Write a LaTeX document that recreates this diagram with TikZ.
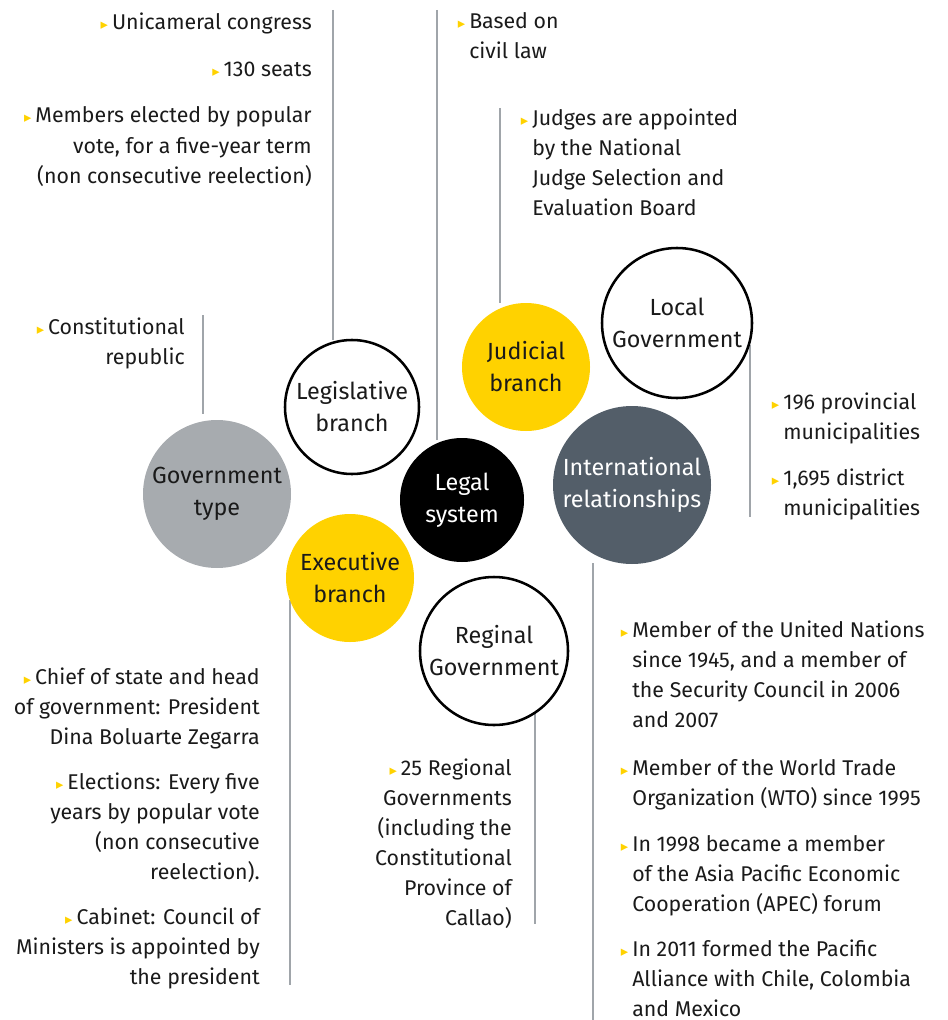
\documentclass[tikz,border=0pt]{standalone}
\usepackage{fontspec}
\setmainfont{Fira Sans}
\newfontfamily\symfont{DejaVu Sans}
\usetikzlibrary{positioning}

\definecolor{eyyellow}{HTML}{FFD200}
\definecolor{eygray}{HTML}{A7ABAF}
\definecolor{eyslate}{HTML}{535E69}
\definecolor{eyline}{HTML}{A0A5AA}
\definecolor{eytext}{HTML}{1A1A1A}

% small yellow bullet
\newcommand{\bul}{{\color{eyyellow}\symfont\fontsize{11}{11}\selectfont ▸}\hspace{3pt}}
\newcommand{\hbul}{\llap{\bul}}

\tikzset{
  bubble/.style={circle, inner sep=0pt, align=center, text=eytext,
    font=\fontsize{17.5}{24}\selectfont},
  ring/.style={bubble, draw=black, line width=1.9pt, fill=white},
  stem/.style={draw=eyline, line width=1.2pt},
  noteleft/.style={anchor=base east, align=right, inner sep=0pt, text=eytext,
    font=\fontsize{16}{22.5}\selectfont},
  noteright/.style={anchor=base west, align=left, inner sep=0pt, text=eytext,
    font=\fontsize{16}{22.5}\selectfont}
}

\begin{document}
\begin{tikzpicture}[x=0.75pt, y=-0.75pt]
    \useasboundingbox (0,0) rectangle (948,1020);

    % Stem ends
    \coordinate (govtop) at (203,315);
    \coordinate (govbot) at (203,414);
    \coordinate (legtop) at (333,10);
    \coordinate (legbot) at (333,340);
    \coordinate (lawtop) at (437,10);
    \coordinate (lawbot) at (437,440);
    \coordinate (judtop) at (500,108);
    \coordinate (judbot) at (500,303);
    \coordinate (loctop) at (750,345);
    \coordinate (locbot) at (750,517);
    \coordinate (inttop) at (593,563);
    \coordinate (intbot) at (593,1020);
    \coordinate (exetop) at (290,600);
    \coordinate (exebot) at (290,985);
    \coordinate (regtop) at (535,712);
    \coordinate (regbot) at (535,924);

    % Stems
    \draw[stem] (govtop) -- (govbot);
    \draw[stem] (legtop) -- (legbot);
    \draw[stem] (lawtop) -- (lawbot);
    \draw[stem] (judtop) -- (judbot);
    \draw[stem] (loctop) -- (locbot);
    \draw[stem] (inttop) -- (intbot);
    \draw[stem] (exetop) -- (exebot);
    \draw[stem] (regtop) -- (regbot);

    % Circles
    \node[bubble, fill=eygray, minimum size=111pt] (govtype) at (217,494) {Government\\type};
    \node[ring, minimum size=100.5pt] (legis) at (352,407) {Legislative\\branch};
    \node[bubble, fill=eyyellow, minimum size=96pt] (judic) at (526,367) {Judicial\\branch};
    \node[bubble, fill=black, text=white, minimum size=93pt] (legal) at (462,500) {Legal\\system};
    \node[bubble, fill=eyyellow, minimum size=96pt] (exec) at (350,578) {Executive\\branch};
    \node[bubble, fill=eyslate, text=white, minimum size=118.5pt] (intl) at (632,485) {International\\relationships};
    \node[ring, minimum size=112.5pt] (local) at (677,323) {Local\\Government};
    \node[ring, minimum size=111pt] (region) at (494,651) {Reginal\\Government};

    % Legislative notes (placed at the baseline of the last line)
    \node[noteleft] (leg1) at (312,30) {\bul Unicameral congress};
    \node[noteleft] (leg2) at (312,77) {\bul 130 seats};
    \node[noteleft] (leg3) at (312,183) {\bul Members elected by popular\\
        vote, for a five-year term\\(non consecutive reelection)};

    % Legal system notes
    \node[noteright] (law1) at (469,59) {\hbul Based on\\civil law};

    % Judicial notes
    \node[noteright] (jud1) at (532,215) {\hbul Judges are appointed\\
        by the National\\Judge Selection and\\Evaluation Board};

    % Government type notes
    \node[noteleft] (gov1) at (185,364) {\bul Constitutional\\republic};

    % Local government notes
    \node[noteright] (loc1) at (783,439) {\hbul 196 provincial\\municipalities};
    \node[noteright] (loc2) at (783,515) {\hbul 1,695 district\\municipalities};

    % Executive notes
    \node[noteleft] (exe1) at (260,744) {\bul Chief of state and head\\
        of government: President\\Dina Boluarte Zegarra};
    \node[noteleft] (exe2) at (260,879) {\bul Elections: Every five\\
        years by popular vote\\(non consecutive\\reelection).};
    \node[noteleft] (exe3) at (260,984) {\bul Cabinet: Council of\\
        Ministers is appointed by\\the president};

    % Regional notes
    \node[noteleft] (reg1) at (512,925) {\bul 25 Regional\\Governments\\
        (including the\\Constitutional\\Province of\\Callao)};

    % International notes
    \node[noteright] (int1) at (632,727) {\hbul Member of the United Nations\\
        since 1945, and a member of\\the Security Council in 2006\\and 2007};
    \node[noteright] (int2) at (632,805) {\hbul Member of the World Trade\\
        Organization (WTO) since 1995};
    \node[noteright] (int3) at (632,911) {\hbul In 1998 became a member\\
        of the Asia Pacific Economic\\Cooperation (APEC) forum};
    \node[noteright] (int4) at (632,1016) {\hbul In 2011 formed the Pacific\\
        Alliance with Chile, Colombia\\and Mexico};
\end{tikzpicture}
\end{document}
